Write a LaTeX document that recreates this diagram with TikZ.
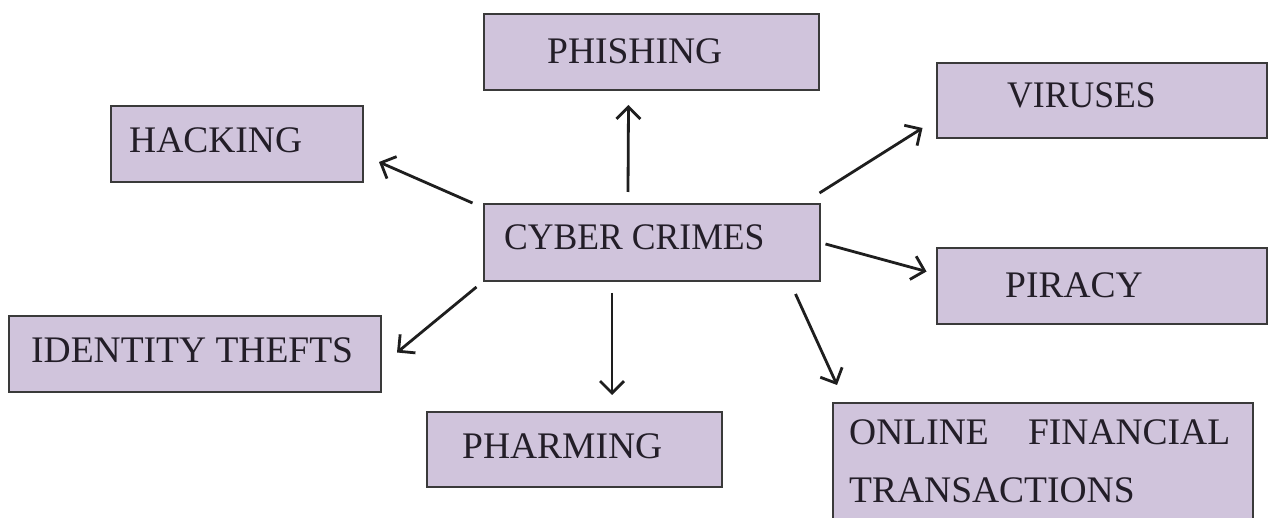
\documentclass[tikz,border=0pt]{standalone}
\usepackage{fontspec}
\setmainfont{Liberation Serif}
\usetikzlibrary{arrows.meta}
\definecolor{boxfill}{RGB}{208,196,220}
\definecolor{boxline}{RGB}{58,58,58}
\definecolor{arrowink}{RGB}{30,30,30}
\definecolor{textink}{RGB}{35,30,40}
\begin{document}
\begin{tikzpicture}[x=1pt,y=-1pt,
  box/.style 2 args={draw=boxline, fill=boxfill, line width=2pt, inner sep=0pt,
    minimum width=#1, minimum height=#2},
  caption/.style={inner sep=0pt, anchor=base west, text=textink,
    font=\fontsize{37.5}{45}\selectfont},
  arr/.style={draw=arrowink, line width=2.8pt,
    -{Straight Barb[length=12pt,width=24pt]}}]
\fill[white] (0,0) rectangle (1272,518);
\clip (0,0) rectangle (1272,518);
\useasboundingbox (0,0) rectangle (1272,518);

% boxes
\node[box={335}{76}] (ph) at (651.5,52) {};
\node[box={252}{76}] (hk) at (237,144) {};
\node[box={330}{75}] (vi) at (1101.5,100.5) {};
\node[box={336}{77}] (cc) at (651.5,242.5) {};
\node[box={330}{76}] (pi) at (1101.5,286) {};
\node[box={372}{76}] (id) at (195,354) {};
\node[box={295}{75}] (pm) at (574.5,449.5) {};
\node[box={420}{140}] (on) at (1043,473) {};

% captions
\node[caption] (tph) at (547,64) {PHISHING};
\node[caption] (thk) at (129,153) {HACKING};
\node[caption] (tvi) at (1007,108) {\scalebox{0.95}[1]{VIRUSES}};
\node[caption] (tcc) at (504,250) {\scalebox{0.95}[1]{CYBER CRIMES}};
\node[caption] (tpi) at (1005,298) {PIRACY};
\node[caption] (tid) at (31,363) {IDENTITY THEFTS};
\node[caption] (tpm) at (462,458) {PHARMING};
\node[caption] (ton1) at (849,445) {\hbox to 381pt{ONLINE\hfill FINANCIAL}};
\node[caption] (ton2) at (849,502) {TRANSACTIONS};

% connectors from the centre box
\draw[arr] ([shift={(-23.5,-11)}]cc.north) -- ([shift={(-23,14)}]ph.south);
\draw[arr] ([shift={(-10,0)}]cc.north west) -- ([shift={(15,18)}]hk.east);
\draw[arr] ([shift={(-1,-10)}]cc.north east) -- ([shift={(-13,27.5)}]vi.west);
\draw[arr] ([shift={(5,1.5)}]cc.east) -- ([shift={(-9,-14.5)}]pi.west);
\draw[arr] ([shift={(-6,5)}]cc.south west) -- ([shift={(15,-1.5)}]id.east);
\draw[arr] ([shift={(-39.5,11)}]cc.south) -- ([shift={(37.5,-16)}]pm.north);
\draw[arr] ([shift={(-25,12)}]cc.south east) -- ([shift={(5,-17)}]on.north west);
\end{tikzpicture}
\end{document}
